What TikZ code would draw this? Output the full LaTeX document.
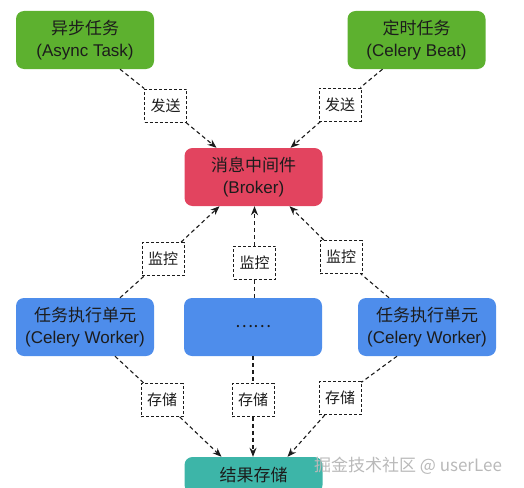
\documentclass[tikz,border=0pt]{standalone}
\usepackage{fontspec}
\setmainfont{Liberation Sans}
\newfontfamily\cjk{Noto Sans CJK SC}
\usetikzlibrary{arrows.meta,calc}
\definecolor{cgreen}{HTML}{5DB12F}
\definecolor{cred}{HTML}{E2445F}
\definecolor{cblue}{HTML}{4E8DEB}
\definecolor{cteal}{HTML}{3DB5A8}
\definecolor{ctext}{HTML}{1C1C1C}
\tikzset{
  box/.style={rounded corners=8pt, minimum width=138pt, minimum height=58pt, inner sep=0pt,
    align=center, text=ctext, font=\fontsize{17}{22}\selectfont},
  lbl/.style={draw=ctext, dashed, dash pattern=on 3pt off 2pt, line width=0.9pt, fill=white,
    minimum width=42pt, minimum height=33pt, inner sep=0pt, font=\cjk\fontsize{15}{18}\selectfont, text=ctext},
  link/.style={draw=ctext, line width=1.1pt, dash pattern=on 4pt off 3pt},
  arr/.style={link, -{Stealth[length=9pt,width=7pt]}},
}
\begin{document}
\begin{tikzpicture}[x=1pt,y=-1pt]
\useasboundingbox (0,0) rectangle (524,487);
\clip (0,0) rectangle (524,487);
% boxes
\node[box, fill=cgreen] (async) at (85,40) {{\cjk 异步任务}\\(Async Task)};
\node[box, fill=cgreen] (beat) at (416.5,40) {{\cjk 定时任务}\\(Celery Beat)};
\node[box, fill=cred] (broker) at (253.5,177) {{\cjk 消息中间件}\\(Broker)};
\node[box, fill=cblue] (w1) at (85,327) {{\cjk 任务执行单元}\\(Celery Worker)};
\node[box, fill=cblue] (wm) at (253,327) {\cjk ……};
\node[box, fill=cblue] (w2) at (427,327) {{\cjk 任务执行单元}\\(Celery Worker)};
\node[box, fill=cteal, minimum height=36pt] (result) at (253.5,475) {\cjk 结果存储};
% labels
\node[lbl] (s1) at (165.5,105.5) {发送};
\node[lbl] (s2) at (340,104.5) {发送};
\node[lbl] (m1) at (163,259) {监控};
\node[lbl] (m2) at (254.5,262.5) {监控};
\node[lbl] (m3) at (341,257) {监控};
\node[lbl] (r1) at (162,400) {存储};
\node[lbl] (r2) at (253,400) {存储};
\node[lbl] (r3) at (340,398) {存储};
% send
\path[link] ($(async.south)+(35,0)$) -- (s1);
\path[arr] (s1) -- ($(broker.north)+(-37,0)$);
\path[link] ($(beat.south)+(-34,0)$) -- (s2);
\path[arr] (s2) -- ($(broker.north)+(37,0)$);
% monitor
\path[link] ($(w1.north)+(35,0)$) -- (m1);
\path[arr] (m1) -- ($(broker.south)+(-34,0)$);
\path[link] (wm.north -| m2) -- (m2);
\path[arr] (m2) -- (broker.south -| m2);
\path[link] ($(w2.north)+(-38,0)$) -- (m3);
\path[arr] (m3) -- ($(broker.south)+(36,0)$);
% store
\path[link] ($(w1.south)+(30,0)$) -- (r1);
\path[arr] (r1) -- ($(result.north)+(-32,0)$);
\path[link] (wm.south -| r2) -- (r2);
\path[arr] (r2) -- (result.north -| r2);
\path[link] ($(w2.south)+(-30,0)$) -- (r3);
\path[arr] (r3) -- ($(result.north)+(34,0)$);
% watermark
\node[text=gray!55, font=\cjk\fontsize{17}{20}\selectfont, anchor=center] (wmk) at (408,466) {掘金技术社区 @ userLee};
\end{tikzpicture}
\end{document}
